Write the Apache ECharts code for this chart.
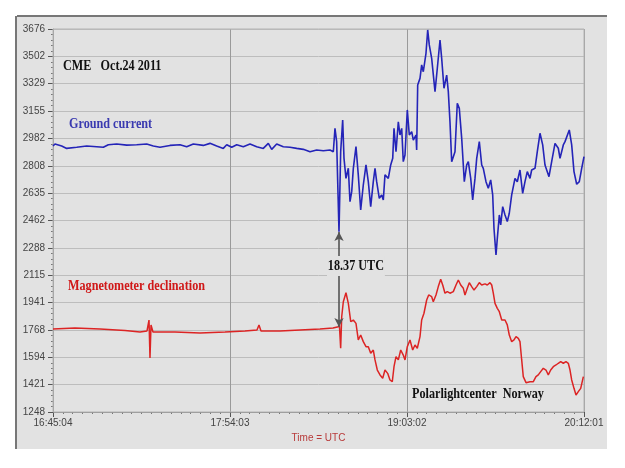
<!DOCTYPE html>
<html>
<head>
<meta charset="utf-8">
<script src="https://cdn.jsdelivr.net/npm/echarts@6/dist/echarts.min.js"></script>
<style>html,body{margin:0;padding:0;background:#fff}#c{width:625px;height:468px}</style>
</head>
<body>
<div id="c"></div>
<script>
// ---- data (seconds since 16:45:04 UTC, values) ----
const startOfDay = 16 * 3600 + 45 * 60 + 4;
const xTickLabels = ['16:45:04', '17:54:03', '19:03:02', '20:12:01'];
const yTickLabels = ['1248', '1421', '1594', '1768', '1941', '2115', '2288', '2462', '2635', '2808', '2982', '3155', '3329', '3502', '3676'];

const groundSeconds = [0, 47, 203, 320, 554, 788, 1022, 1177, 1294, 1489, 1723, 1957, 2191, 2346, 2502, 2736, 2970, 3126, 3281, 3515, 3671, 3828, 3982, 4062, 4179, 4296, 4450, 4607, 4763, 4918, 5035, 5114, 5231, 5385, 5542, 5699, 5853, 6010, 6166, 6321, 6477, 6555,
  6594, 6633, 6688, 6727, 6774, 6805, 6851, 6906, 6945, 6985, 7023, 7085, 7139, 7195, 7256, 7319, 7373, 7429, 7490, 7530, 7569, 7630, 7686, 7724, 7763, 7841, 7897, 7944, 7974, 8021, 8075, 8114, 8154, 8191, 8231, 8285, 8332, 8388, 8425, 8488, 8504, 8528, 8582, 8621, 8659, 8722, 8762, 8799, 8855, 8933, 8987, 9050, 9089, 9143, 9206, 9244, 9283, 9323,
  9361, 9400, 9454, 9501, 9557, 9618, 9674, 9712, 9768, 9814, 9868, 9908, 9969, 10025, 10062, 10125, 10179, 10235, 10282, 10312, 10359, 10390, 10437, 10469, 10516, 10570, 10623, 10670, 10726, 10803, 10857, 10920, 10983, 11037, 11091, 11154, 11193, 11271, 11325, 11388, 11451, 11505, 11598, 11661, 11739, 11816, 11856, 11933, 11973, 12073, 12129, 12183, 12246, 12307, 12363, 12417];
const groundValues = [2934, 2947, 2934, 2919, 2926, 2934, 2930, 2926, 2942, 2947, 2940, 2942, 2947, 2934, 2926, 2938, 2942, 2930, 2947, 2938, 2951, 2934, 2919, 2942, 2926, 2942, 2930, 2947, 2930, 2919, 2951, 2913, 2947, 2930, 2926, 2919, 2913, 2898, 2909, 2904, 2909, 2898,
  3046, 2962, 2391, 2898, 3099, 2856, 2729, 2793, 2581, 2645, 2793, 2930, 2751, 2529, 2687, 2814, 2708, 2550, 2708, 2793, 2708, 2603, 2624, 2592, 2751, 2729, 2814, 2856, 3046, 2898, 3088, 3004, 3046, 2835, 2877, 3163, 3004, 3025, 2972, 3004, 2909, 3321, 3363, 3448, 3405, 3522, 3670, 3575, 3490, 3279, 3427, 3606, 3490, 3300, 3384, 3279, 3088, 2835,
  2835, 2898, 3205, 3173, 2983, 2708, 2814, 2835, 2729, 2592, 2729, 2856, 2962, 2814, 2793, 2708, 2666, 2719, 2624, 2413, 2243, 2349, 2497, 2434, 2550, 2497, 2455, 2508, 2624, 2729, 2708, 2782, 2634, 2708, 2772, 2729, 2782, 2793, 2898, 3015, 2941, 2814, 2740, 2835, 2951, 2920, 2856, 2941, 2962, 3036, 2941, 2772, 2692, 2708, 2793, 2867];

const magSeconds = [0, 514, 1099, 1684, 2034, 2198, 2245, 2268, 2292, 2338, 2853, 3437, 4022, 4490, 4770, 4817, 4864, 5308, 5776, 6244, 6548,
  6673, 6695, 6727, 6751, 6789, 6851, 6906, 6962, 7023, 7085, 7139, 7195, 7256, 7319, 7373, 7429, 7490, 7530, 7584, 7647, 7710, 7763, 7826, 7880, 7934, 7974, 8021, 8075, 8131, 8191, 8231, 8285, 8348, 8411, 8465, 8519, 8582, 8621, 8675, 8738, 8785, 8855, 8893, 8956, 9010, 9066, 9113, 9166, 9220, 9283,
  9361, 9424, 9478, 9534, 9595, 9634, 9688, 9735, 9791, 9845, 9908, 9969, 10025, 10102, 10156, 10219, 10259, 10296, 10336, 10390, 10437, 10493, 10530, 10570, 10623, 10670, 10726, 10780, 10827, 10881, 10920, 10960, 10997, 11061, 11154, 11232, 11294, 11348, 11404, 11465, 11528, 11582, 11638, 11699, 11762, 11816, 11872, 11933, 11996, 12050, 12090, 12129, 12183, 12230, 12284, 12340, 12402];
const magValues = [1774, 1781, 1774, 1765, 1755, 1762, 1831, 1590, 1800, 1755, 1755, 1749, 1755, 1762, 1768, 1800, 1762, 1762, 1768, 1774, 1781,
  1789, 1810, 1652, 1852, 1947, 2004, 1937, 1821, 1831, 1810, 1705, 1736, 1694, 1662, 1662, 1620, 1641, 1578, 1514, 1483, 1462, 1514, 1493, 1451, 1440, 1535, 1599, 1578, 1641, 1609, 1578, 1662, 1705, 1641, 1673, 1652, 1726, 1831, 1874, 1958, 1990, 1979, 1947, 1990, 2043, 2089, 2053, 2001, 2011, 2001,
  2011, 2053, 2085, 2053, 2032, 1990, 2032, 2068, 2043, 2021, 2043, 2068, 2053, 2060, 2053, 2068, 2053, 2001, 1937, 1905, 1884, 1831, 1842, 1831, 1800, 1736, 1694, 1705, 1726, 1715, 1694, 1578, 1472, 1434, 1440, 1440, 1472, 1483, 1504, 1525, 1514, 1483, 1514, 1535, 1546, 1557, 1567, 1557, 1567, 1557, 1514, 1451, 1398, 1356, 1377, 1398, 1472];

const eventSecond = 6688;           // 18.37 UTC arrow
const eventValues = [1787, 2389];   // arrow ends (magnetometer -> ground current)

// ---- helpers ----
const xMin = 0, xMax = 12417, xStep = 4139;
const yMin = 1248, yMax = 3676, yStep = (yMax - yMin) / 14;
const zip = (a, b) => a.map((v, i) => [v, b[i]]);

const chart = echarts.init(document.getElementById('c'), null, { renderer: 'canvas' });
const serif = '"Liberation Serif", "DejaVu Serif", serif';
const sans = '"Liberation Sans", Arial, sans-serif';
const panel = '#e2e2e2';
const note = (text, x, y, fill, extra) => ({
  type: 'text', x: x, y: y, scaleX: 0.87, z: 50, silent: true,
  style: Object.assign({ text: text, font: 'bold 14px ' + serif, fill: fill, textVerticalAlign: 'top' }, extra || {})
});

chart.setOption({
  animation: false,
  backgroundColor: '#ffffff',
  grid: { left: 53, top: 29, width: 531, height: 383, show: true, backgroundColor: 'transparent', borderColor: '#b5b5b5', borderWidth: 1, z: 1 },
  graphic: [
    { type: 'rect', shape: { x: 17, y: 17, width: 590, height: 432 }, style: { fill: panel }, z: -100, silent: true },
    { type: 'line', shape: { x1: 17, y1: 16, x2: 607, y2: 16 }, style: { stroke: '#777', lineWidth: 2 }, z: -90, silent: true },
    { type: 'line', shape: { x1: 16, y1: 16, x2: 16, y2: 449 }, style: { stroke: '#777', lineWidth: 2 }, z: -90, silent: true },
    note('CME   Oct.24 2011', 63, 59, '#111'),
    note('Ground current', 69, 117, '#3a3ab0'),
    note('Magnetometer declination', 68, 279, '#d01818'),
    note('18.37 UTC', 327, 256, '#111', { backgroundColor: panel, padding: [3, 1, 3, 1] }),
    note('Polarlightcenter  Norway', 412, 387, '#111')
  ],
  xAxis: {
    type: 'value', min: xMin, max: xMax, interval: xStep,
    name: 'Time = UTC', nameLocation: 'middle', nameGap: 21,
    nameTextStyle: { color: '#b83a3a', fontSize: 10, fontFamily: sans },
    axisLine: { show: true, lineStyle: { color: '#888', width: 1 } },
    axisTick: { show: true, length: 5, lineStyle: { color: '#555' } },
    minorTick: { show: true, splitNumber: 18, length: 2, lineStyle: { color: '#777' } },
    splitLine: { show: true, lineStyle: { color: '#9a9a9a', width: 1 } },
    axisLabel: { color: '#444', fontSize: 10, fontFamily: sans, margin: 6,
      formatter: v => xTickLabels[Math.round(v / xStep)] || '' }
  },
  yAxis: {
    type: 'value', min: yMin, max: yMax, interval: yStep,
    axisLine: { show: true, lineStyle: { color: '#999', width: 1 } },
    axisTick: { show: true, length: 5, lineStyle: { color: '#555' } },
    minorTick: { show: true, splitNumber: 5, length: 2, lineStyle: { color: '#777' } },
    splitLine: { show: true, lineStyle: { color: '#bdbdbd', width: 1 } },
    axisLabel: { color: '#444', fontSize: 10, fontFamily: sans, margin: 8,
      formatter: v => yTickLabels[Math.round((v - yMin) / yStep)] || '' }
  },
  series: [
    {
      name: 'Ground current', type: 'line', showSymbol: false, z: 5,
      data: zip(groundSeconds, groundValues),
      lineStyle: { color: '#2424b8', width: 1.6 }
    },
    {
      name: 'Magnetometer declination', type: 'line', showSymbol: false, z: 4,
      data: zip(magSeconds, magValues),
      lineStyle: { color: '#dc2424', width: 1.5 },
      markLine: {
        silent: true, symbol: ['arrow', 'arrow'], symbolSize: [7, 9],
        label: { show: false },
        lineStyle: { color: '#555', width: 1.6, type: 'solid' },
        data: [[{ coord: [eventSecond, eventValues[0]] }, { coord: [eventSecond, eventValues[1]] }]]
      }
    }
  ]
});
</script>
</body>
</html>
